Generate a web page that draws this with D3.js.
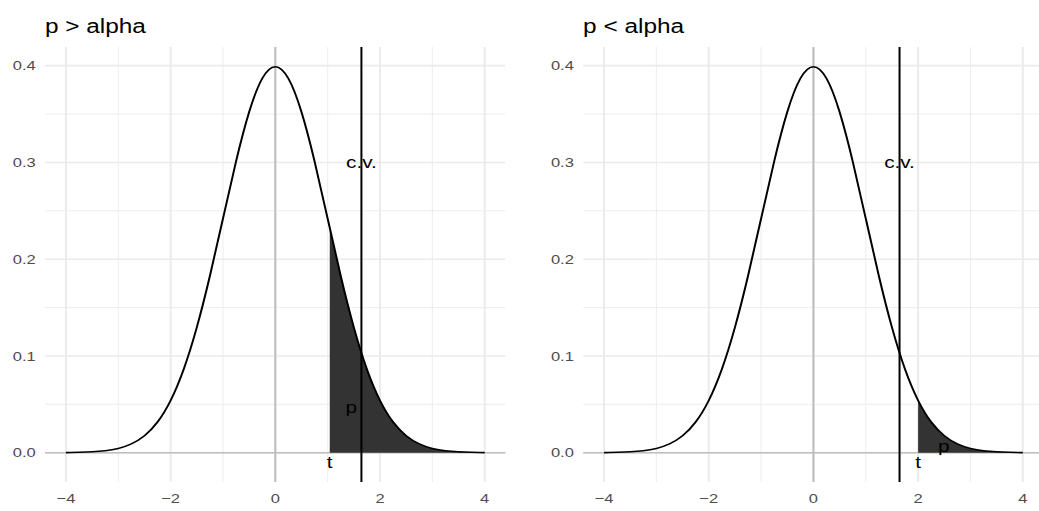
<!DOCTYPE html>
<html>
<head>
<meta charset="utf-8">
<script src="https://cdn.jsdelivr.net/npm/d3@7"></script>
<style>
  html, body { margin: 0; padding: 0; background: #fff; }
  svg { display: block; font-family: "Liberation Sans", Arial, sans-serif; }
</style>
</head>
<body>
<div id="chart"></div>
<script>
// density curve (standard normal shape)
const xGrid = [-4, -3.75, -3.5, -3.25, -3, -2.75, -2.5, -2.25, -2, -1.75, -1.5, -1.25, -1, -0.75, -0.5, -0.25,
  0, 0.25, 0.5, 0.75, 1, 1.25, 1.5, 1.75, 2, 2.25, 2.5, 2.75, 3, 3.25, 3.5, 3.75, 4];
const density = [0.0001, 0.0004, 0.0009, 0.0020, 0.0044, 0.0091, 0.0175, 0.0317, 0.0540, 0.0863, 0.1295, 0.1826, 0.2420, 0.3011, 0.3521, 0.3867,
  0.3989, 0.3867, 0.3521, 0.3011, 0.2420, 0.1826, 0.1295, 0.0863, 0.0540, 0.0317, 0.0175, 0.0091, 0.0044, 0.0020, 0.0009, 0.0004, 0.0001];

const titles = ["p > alpha", "p < alpha"];
const tValues = [1.04, 2.0];
const critValue = 1.645;
const cvLabelY = 0.3;
const tLabelY = -0.01;
const pLabelX = [1.45, 2.49];
const pLabelY = [0.047, 0.007];

const xTicks = [-4, -2, 0, 2, 4];
const xMinor = [-3, -1, 1, 3];
const yTicks = [0, 0.1, 0.2, 0.3, 0.4];
const yMinor = [0.05, 0.15, 0.25, 0.35];

// picture is stretched horizontally, so draw in a narrower box and let the svg stretch it
const STRETCH = 1.25;
const W = 1039, H = 511;
const VBW = W / STRETCH;
const PANEL = { TOP: 47, BOTTOM: 482, WIDTH: 368.5 };
const panelLefts = [36, 466.5];

const points = xGrid.map((x, i) => ({ x: x, y: density[i] }));

const svg = d3.select("#chart")
  .append("svg")
    .attr("width", W)
    .attr("height", H)
    .attr("viewBox", `0 0 ${VBW} ${H}`)
    .attr("preserveAspectRatio", "none");

const defs = svg.append("defs");

const y = d3.scaleLinear()
  .domain([-0.0303, 0.4193])
  .range([PANEL.BOTTOM, PANEL.TOP]);

panelLefts.forEach((left, k) => {
  const x = d3.scaleLinear()
    .domain([-4.4, 4.4])
    .range([left, left + PANEL.WIDTH]);

  defs.append("clipPath").attr("id", "panel" + k)
    .append("rect")
      .attr("x", left).attr("y", PANEL.TOP)
      .attr("width", PANEL.WIDTH).attr("height", PANEL.BOTTOM - PANEL.TOP);

  defs.append("clipPath").attr("id", "tail" + k)
    .append("rect")
      .attr("x", x(tValues[k])).attr("y", PANEL.TOP)
      .attr("width", x(4.4) - x(tValues[k])).attr("height", PANEL.BOTTOM - PANEL.TOP);

  const g = svg.append("g").attr("clip-path", `url(#panel${k})`);

  // grid
  g.selectAll(".xminor").data(xMinor).join("line")
    .attr("x1", d => x(d)).attr("x2", d => x(d))
    .attr("y1", PANEL.TOP).attr("y2", PANEL.BOTTOM)
    .attr("stroke", "#EBEBEB").attr("stroke-width", 0.8);
  g.selectAll(".yminor").data(yMinor).join("line")
    .attr("x1", left).attr("x2", left + PANEL.WIDTH)
    .attr("y1", d => y(d)).attr("y2", d => y(d))
    .attr("stroke", "#EBEBEB").attr("stroke-width", 0.8);
  g.selectAll(".xmajor").data(xTicks).join("line")
    .attr("x1", d => x(d)).attr("x2", d => x(d))
    .attr("y1", PANEL.TOP).attr("y2", PANEL.BOTTOM)
    .attr("stroke", "#EBEBEB").attr("stroke-width", 1.6);
  g.selectAll(".ymajor").data(yTicks).join("line")
    .attr("x1", left).attr("x2", left + PANEL.WIDTH)
    .attr("y1", d => y(d)).attr("y2", d => y(d))
    .attr("stroke", "#EBEBEB").attr("stroke-width", 1.6);

  // zero lines
  g.append("line")
    .attr("x1", left).attr("x2", left + PANEL.WIDTH)
    .attr("y1", y(0)).attr("y2", y(0))
    .attr("stroke", "#BEBEBE").attr("stroke-width", 1.6);
  g.append("line")
    .attr("x1", x(0)).attr("x2", x(0))
    .attr("y1", PANEL.TOP).attr("y2", PANEL.BOTTOM)
    .attr("stroke", "#BEBEBE").attr("stroke-width", 1.6);

  // shaded tail
  const area = d3.area()
    .x(d => x(d.x)).y0(y(0)).y1(d => y(d.y))
    .curve(d3.curveNatural);
  g.append("path")
    .datum(points)
    .attr("clip-path", `url(#tail${k})`)
    .attr("d", area)
    .attr("fill", "#333333");

  // curve
  const line = d3.line()
    .x(d => x(d.x)).y(d => y(d.y))
    .curve(d3.curveNatural);
  g.append("path")
    .datum(points)
    .attr("d", line)
    .attr("fill", "none")
    .attr("stroke", "black")
    .attr("stroke-width", 1.6);

  // critical value
  g.append("line")
    .attr("x1", x(critValue)).attr("x2", x(critValue))
    .attr("y1", PANEL.TOP).attr("y2", PANEL.BOTTOM)
    .attr("stroke", "black").attr("stroke-width", 1.6);

  // labels
  const labels = [
    { x: critValue, y: cvLabelY, text: "c.v." },
    { x: tValues[k], y: tLabelY, text: "t" },
    { x: pLabelX[k], y: pLabelY[k], text: "p" }
  ];
  g.selectAll(".lab").data(labels).join("text")
    .attr("x", d => x(d.x)).attr("y", d => y(d.y))
    .attr("dy", "0.35em")
    .attr("text-anchor", "middle")
    .attr("font-size", 16.6)
    .attr("fill", "black")
    .text(d => d.text);

  // axes text
  svg.append("g").selectAll("text").data(xTicks).join("text")
    .attr("x", d => x(d)).attr("y", 503)
    .attr("text-anchor", "middle")
    .attr("font-size", 13.2)
    .attr("fill", "#4D4D4D")
    .text(d => d < 0 ? "\u2212" + Math.abs(d) : d);

  svg.append("g").selectAll("text").data(yTicks).join("text")
    .attr("x", left - 7.4).attr("y", d => y(d))
    .attr("dy", "0.35em")
    .attr("text-anchor", "end")
    .attr("font-size", 13.2)
    .attr("fill", "#4D4D4D")
    .text(d => d.toFixed(1));

  svg.append("text")
    .attr("x", left).attr("y", 33)
    .attr("font-size", 19.5)
    .attr("fill", "black")
    .text(titles[k]);
});
</script>
</body>
</html>
